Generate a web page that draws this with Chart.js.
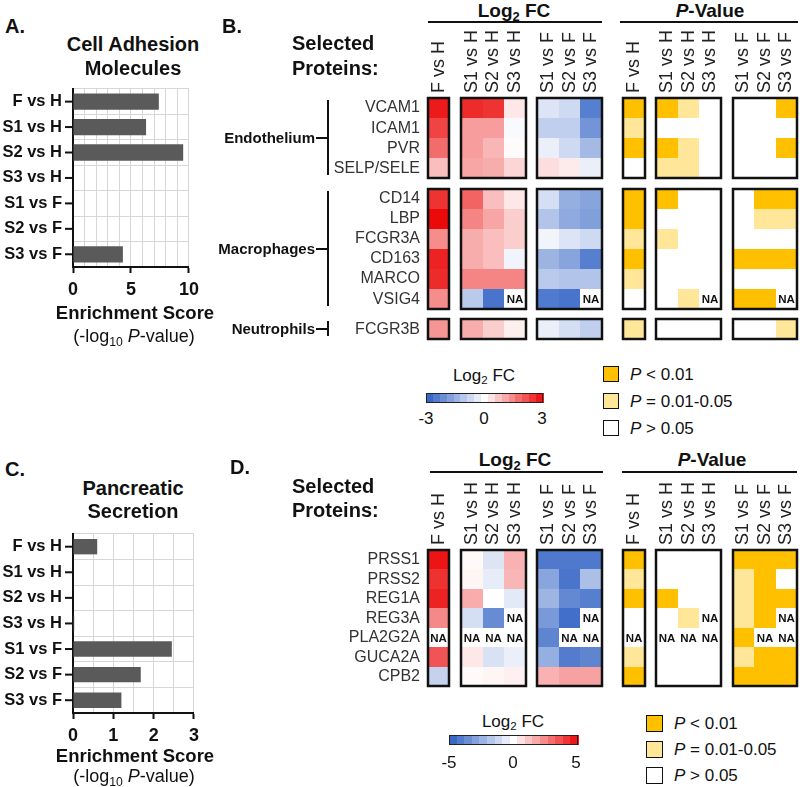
<!DOCTYPE html>
<html>
<head>
<meta charset="utf-8">
<script src="https://cdn.jsdelivr.net/npm/chart.js@4.4.1/dist/chart.umd.min.js"></script>
<style>
  body { margin: 0; background: #fff; }
  #page { position: relative; width: 800px; height: 787px; overflow: hidden;
          font-family: "Liberation Sans", Arial, Helvetica, sans-serif; color: #111; }
  canvas { position: absolute; }
  .t { position: absolute; white-space: nowrap; }
  .box { position: absolute; box-sizing: border-box; }
  sub { font-size: 68%; vertical-align: -0.3em; line-height: 0; }
</style>
</head>
<body>
<div id="page">
  <canvas id="chartA" width="205" height="232" style="left:0;top:76px"></canvas>
  <canvas id="chartC" width="205" height="233" style="left:0;top:521px"></canvas>
  <canvas id="heatB" width="590" height="332" style="left:210px;top:25px"></canvas>
  <canvas id="heatD" width="590" height="227" style="left:210px;top:477px"></canvas>
</div>
<script>
// ---- data ----
const comparisons = ['F vs H', 'S1 vs H', 'S2 vs H', 'S3 vs H', 'S1 vs F', 'S2 vs F', 'S3 vs F'];
const adhesionScore = [7.4, 6.3, 9.5, 0, 0, 0, 4.3];
const pancreaticScore = [0.6, 0, 0, 0.03, 2.45, 1.68, 1.2];

const colFvsH = ['F vs H'];
const colsVsH = ['S1 vs H', 'S2 vs H', 'S3 vs H'];
const colsVsF = ['S1 vs F', 'S2 vs F', 'S3 vs F'];

// panel B (log2 FC, range -3..3)
const groupsB = ['Endothelium', 'Macrophages', 'Neutrophils'];
const groupSizesB = [4, 6, 1];
const proteinsB = ['VCAM1', 'ICAM1', 'PVR', 'SELP/SELE', 'CD14', 'LBP', 'FCGR3A', 'CD163', 'MARCO', 'VSIG4', 'FCGR3B'];
const fcB_FvsH = [2.8, 2.3, 1.8, 0.8, 2.5, 3.0, 1.4, 2.7, 2.6, 1.4, 1.3];
const fcB_SvsH = [[2.6, 2.5, 0.3], [1.2, 1.2, -0.1], [1.2, 0.9, 0.05], [1.1, 1.0, 0.5], [1.9, 0.8, 0.3], [1.5, 1.1, 0.6],
                  [1.0, 0.8, 0.6], [1.0, 0.8, -0.2], [1.5, 1.5, 1.5], [-1.0, -2.6, null], [1.0, 0.6, 0.2]];
const fcB_SvsF = [[-0.5, -0.7, -2.4], [-0.9, -0.9, -2.0], [-0.3, -0.7, -1.3], [0.4, 0.25, -0.3], [-0.6, -1.5, -1.7], [-1.1, -1.6, -1.8],
                  [-0.2, -0.5, -0.7], [-1.4, -1.7, -2.4], [-1.0, -1.1, -1.1], [-2.5, -2.6, null], [-0.3, -0.6, -0.9]];
// p-value class: 2 = P<0.01, 1 = 0.01-0.05, 0 = >0.05, null = NA
const pB_FvsH = [2, 1, 2, 0, 2, 2, 1, 2, 1, 0, 1];
const pB_SvsH = [[2, 1, 0], [0, 0, 0], [2, 1, 0], [1, 1, 0], [2, 0, 0], [0, 0, 0], [1, 0, 0], [0, 0, 0], [0, 0, 0], [0, 1, null], [0, 0, 0]];
const pB_SvsF = [[0, 0, 2], [0, 0, 0], [0, 0, 2], [0, 0, 0], [0, 2, 2], [0, 1, 1], [0, 0, 0], [2, 2, 2], [0, 0, 0], [2, 2, null], [0, 0, 1]];

// panel D (log2 FC, range -5..5)
const proteinsD = ['PRSS1', 'PRSS2', 'REG1A', 'REG3A', 'PLA2G2A', 'GUCA2A', 'CPB2'];
const fcD_FvsH = [4.8, 4.2, 4.5, 2.4, null, 3.5, -1.4];
const fcD_SvsH = [[0.1, -0.8, 1.6], [0.2, -0.6, 1.5], [1.7, 0.0, -0.7], [-1.0, -3.6, null], [null, null, null], [0.5, -0.9, -0.5], [0.1, 0.2, 0.3]];
const fcD_SvsF = [[-4.2, -4.2, -4.2], [-2.8, -4.3, -2.0], [-2.3, -3.7, -4.0], [-3.2, -4.5, null], [-3.8, null, null], [-2.5, -4.1, -3.8], [1.6, 1.9, 1.9]];
const pD_FvsH = [2, 1, 2, 0, null, 1, 2];
const pD_SvsH = [[0, 0, 0], [0, 0, 0], [2, 0, 0], [0, 1, null], [null, null, null], [0, 0, 0], [0, 0, 0]];
const pD_SvsF = [[2, 2, 2], [1, 2, 0], [1, 2, 2], [1, 2, null], [2, null, null], [1, 2, 2], [2, 2, 2]];

// ---- styling ----
const FONT = '"Liberation Sans", Arial, Helvetica, sans-serif';
Chart.defaults.font.family = FONT;
Chart.defaults.color = '#111';
const pColors = ['#ffffff', '#ffe699', '#ffc000'];
const ROW_GAP = 0.5, BLOCK_GAP = 0.55, PANEL_GAP = 1.0;
const COL_FONT = 18;

function fcColor(v, lim) {
  const t = Math.max(-1, Math.min(1, v / lim));
  const end = t < 0 ? [45, 95, 195] : [235, 10, 10];
  const a = Math.abs(t);
  return 'rgb(' + end.map(e => Math.round(255 + (e - 255) * a)).join(',') + ')';
}

// tick marks centred on the categories (gridlines sit between them)
const centerTicks = {
  id: 'centerTicks',
  afterDraw(chart) {
    const s = chart.scales.y, ctx = chart.ctx;
    ctx.save();
    ctx.strokeStyle = '#111';
    ctx.lineWidth = 2;
    s.ticks.forEach((t, i) => {
      const y = s.getPixelForTick(i);
      ctx.beginPath();
      ctx.moveTo(s.right - 8, y);
      ctx.lineTo(s.right, y);
      ctx.stroke();
    });
    ctx.restore();
  }
};

function enrichmentChart(id, values, max, gridStep, labelEvery, barPct) {
  const isLabel = v => Math.abs(v / labelEvery - Math.round(v / labelEvery)) < 1e-6;
  return new Chart(document.getElementById(id), {
    type: 'bar',
    data: {
      labels: comparisons,
      datasets: [{ data: values, backgroundColor: '#5a5a5a', barPercentage: barPct, categoryPercentage: 1 }]
    },
    options: {
      indexAxis: 'y',
      responsive: false,
      animation: false,
      layout: { padding: { top: 6, right: 8 }, autoPadding: false },
      plugins: { legend: { display: false }, tooltip: { enabled: false } },
      scales: {
        x: {
          min: 0, max: max,
          ticks: { stepSize: gridStep, autoSkip: false, maxRotation: 0, padding: 6,
                   font: { size: 18, weight: 'bold' }, color: '#111',
                   callback: v => isLabel(v) ? v : '' },
          grid: { color: '#d6d6d6', lineWidth: 1, tickLength: 6, tickWidth: 2,
                  tickColor: c => (c.tick && isLabel(c.tick.value)) ? '#111' : 'rgba(0,0,0,0)' },
          border: { color: '#111', width: 2 },
          afterFit: s => { s.height = 41; }
        },
        y: {
          ticks: { autoSkip: false, padding: 3, font: { size: 16.5, weight: 'bold' }, color: '#111' },
          grid: { color: '#d6d6d6', offset: true, tickLength: 8, tickColor: 'rgba(0,0,0,0)' },
          border: { color: '#111', width: 2 },
          afterFit: s => { s.width = 73; }
        }
      }
    },
    plugins: [centerTicks]
  });
}

function heatmapChart(id, rowLabels, groupNames, groupSizes, blocks, lim) {
  const rowStart = [], groups = [];
  let yPos = 0;
  groupSizes.forEach((n, g) => {
    groups.push({ name: groupNames[g], y0: yPos, y1: yPos + n, first: rowStart.length, n: n });
    for (let i = 0; i < n; i++) rowStart.push(yPos + i);
    yPos += n + ROW_GAP;
  });
  const totalH = yPos - ROW_GAP;

  const xStart = [];
  let xPos = 0;
  blocks.forEach((b, i) => { xStart.push(xPos); xPos += b.cols.length + (i === 2 ? PANEL_GAP : BLOCK_GAP); });
  const totalW = xStart[xStart.length - 1] + blocks[blocks.length - 1].cols.length;

  const colLabels = [], colCenters = [];
  blocks.forEach((b, i) => b.cols.forEach((c, j) => { colLabels.push(c); colCenters.push(xStart[i] + j + 0.5); }));
  const rowCenters = rowStart.map(v => v + 0.5);

  const cells = {
    id: 'cells',
    afterDatasetsDraw(chart) {
      const { ctx, scales: { x, y } } = chart;
      const px = v => Math.round(x.getPixelForValue(v));
      const py = v => Math.round(y.getPixelForValue(v));
      ctx.save();
      blocks.forEach((b, bi) => {
        groups.forEach(g => {
          for (let r = g.first; r < g.first + g.n; r++) {
            b.vals[r].forEach((v, c) => {
              const x0 = px(xStart[bi] + c), x1 = px(xStart[bi] + c + 1);
              const y0 = py(rowStart[r]), y1 = py(rowStart[r] + 1);
              ctx.fillStyle = v === null ? '#fff' : (b.kind === 'fc' ? fcColor(v, lim) : pColors[v]);
              ctx.fillRect(x0, y0, x1 - x0, y1 - y0);
              if (v === null) {
                ctx.fillStyle = '#111';
                ctx.font = 'bold 11.5px ' + FONT;
                ctx.textAlign = 'center';
                ctx.textBaseline = 'middle';
                ctx.fillText('NA', (x0 + x1) / 2, (y0 + y1) / 2 + 1);
              }
            });
          }
          ctx.strokeStyle = '#111';
          ctx.lineWidth = 2.5;
          const bx0 = px(xStart[bi]), bx1 = px(xStart[bi] + b.cols.length);
          ctx.strokeRect(bx0, py(g.y0), bx1 - bx0, py(g.y1) - py(g.y0));
        });
      });
      // group brackets on the left
      groups.forEach(g => {
        if (!g.name) return;
        const bx = chart.chartArea.left - 100;
        const top = py(g.y0) + 2, bot = py(g.y1) - 3, mid = (py(g.y0) + py(g.y1)) / 2;
        ctx.strokeStyle = '#111';
        ctx.lineWidth = 2;
        ctx.beginPath();
        ctx.moveTo(bx, top); ctx.lineTo(bx, bot);
        ctx.moveTo(bx - 12, mid); ctx.lineTo(bx, mid);
        ctx.stroke();
        ctx.fillStyle = '#111';
        ctx.font = 'bold 15px ' + FONT;
        ctx.textAlign = 'right';
        ctx.textBaseline = 'middle';
        ctx.fillText(g.name, bx - 13, mid + 1);
      });
      ctx.restore();
    }
  };

  return new Chart(document.getElementById(id), {
    type: 'scatter',
    data: { datasets: [{ data: [] }] },
    options: {
      responsive: false,
      animation: false,
      layout: { padding: { right: 3, bottom: 4 }, autoPadding: false },
      plugins: { legend: { display: false }, tooltip: { enabled: false } },
      scales: {
        x: {
          type: 'linear', position: 'top', min: 0, max: totalW,
          grid: { display: false, drawTicks: false }, border: { display: false },
          afterBuildTicks: s => { s.ticks = colCenters.map(value => ({ value })); },
          afterFit: s => { s.height = 73; },
          // rotated labels on a top axis land one line-height to the left; shift them back
          ticks: { autoSkip: false, minRotation: 90, maxRotation: 90, padding: 5, labelOffset: COL_FONT * 1.2,
                   font: { size: COL_FONT }, color: '#222', callback: (v, i) => colLabels[i] }
        },
        y: {
          type: 'linear', reverse: true, min: 0, max: totalH,
          grid: { display: false, drawTicks: false }, border: { display: false },
          afterBuildTicks: s => { s.ticks = rowCenters.map(value => ({ value })); },
          afterFit: s => { s.width = 218; },
          ticks: { autoSkip: false, padding: 8, font: { size: 16 }, color: '#333',
                   callback: (v, i) => rowLabels[i] }
        }
      }
    },
    plugins: [cells]
  });
}

const col = a => a.map(v => [v]);

enrichmentChart('chartA', adhesionScore, 10, 1, 5, 0.64);
enrichmentChart('chartC', pancreaticScore, 3, 0.5, 1, 0.6);

heatmapChart('heatB', proteinsB, groupsB, groupSizesB, [
  { cols: colFvsH, vals: col(fcB_FvsH), kind: 'fc' },
  { cols: colsVsH, vals: fcB_SvsH, kind: 'fc' },
  { cols: colsVsF, vals: fcB_SvsF, kind: 'fc' },
  { cols: colFvsH, vals: col(pB_FvsH), kind: 'p' },
  { cols: colsVsH, vals: pB_SvsH, kind: 'p' },
  { cols: colsVsF, vals: pB_SvsF, kind: 'p' }
], 3);

heatmapChart('heatD', proteinsD, [''], [proteinsD.length], [
  { cols: colFvsH, vals: col(fcD_FvsH), kind: 'fc' },
  { cols: colsVsH, vals: fcD_SvsH, kind: 'fc' },
  { cols: colsVsF, vals: fcD_SvsF, kind: 'fc' },
  { cols: colFvsH, vals: col(pD_FvsH), kind: 'p' },
  { cols: colsVsH, vals: pD_SvsH, kind: 'p' },
  { cols: colsVsF, vals: pD_SvsF, kind: 'p' }
], 5);

// ---- text, headers, legends ----
const page = document.getElementById('page');
function txt(html, x, cy, size, align, bold) {
  const d = document.createElement('div');
  d.className = 't';
  d.innerHTML = html;
  d.style.left = x + 'px';
  d.style.top = (cy - size / 2) + 'px';
  d.style.fontSize = size + 'px';
  d.style.lineHeight = size + 'px';
  if (bold) d.style.fontWeight = 'bold';
  if (align === 'center') d.style.transform = 'translateX(-50%)';
  if (align === 'right') d.style.transform = 'translateX(-100%)';
  page.appendChild(d);
}
function box(x, y, w, h, bg, border) {
  const d = document.createElement('div');
  d.className = 'box';
  Object.assign(d.style, { left: x + 'px', top: y + 'px', width: w + 'px', height: h + 'px', background: bg });
  if (border) d.style.border = border;
  page.appendChild(d);
}
function colorbar(x0, x1, y0, y1, lim) {
  const n = 17, w = (x1 - x0) / n;
  for (let i = 0; i < n; i++) {
    box(x0 + i * w, y0, w + 0.6, y1 - y0, fcColor(-lim + (i + 0.5) * 2 * lim / n, lim));
  }
  box(x0, y0, x1 - x0, y1 - y0, 'transparent', '1px solid #222');
}
function pLegend(x, y0, step, size) {
  const items = [[pColors[2], '<i>P</i> &lt; 0.01'], [pColors[1], '<i>P</i> = 0.01-0.05'], [pColors[0], '<i>P</i> &gt; 0.05']];
  items.forEach((it, i) => {
    const y = y0 + i * step;
    box(x, y, size, size, it[0], '1.5px solid #111');
    txt(it[1], x + size + 11, y + size / 2, 17, 'left', false);
  });
}

// panel A
txt('A.', 5, 26, 20, 'left', true);
txt('Cell Adhesion', 133, 44, 20, 'center', true);
txt('Molecules', 133, 68, 20, 'center', true);
txt('Enrichment Score', 135, 313, 18.5, 'center', true);
txt('(-log<sub>10</sub> <i>P</i>-value)', 134, 336, 18, 'center', false);

// panel C
txt('C.', 5, 469, 20, 'left', true);
txt('Pancreatic', 133, 488, 20, 'center', true);
txt('Secretion', 133, 511, 20, 'center', true);
txt('Enrichment Score', 135, 756, 18.5, 'center', true);
txt('(-log<sub>10</sub> <i>P</i>-value)', 134, 776, 18, 'center', false);

// panel B
txt('B.', 222, 26, 20, 'left', true);
txt('Selected', 292, 43, 20, 'left', true);
txt('Proteins:', 292, 68, 20, 'left', true);
txt('Log<sub>2</sub> FC', 514, 10, 19, 'center', true);
box(428, 21, 174, 2, '#111');
txt('<i>P</i>-Value', 710, 10, 19, 'center', true);
box(620, 21, 178, 2, '#111');
txt('Log<sub>2</sub> FC', 484, 375, 17, 'center', false);
colorbar(426, 543, 393, 403, 3);
txt('-3', 426, 418, 17, 'center', false);
txt('0', 484, 418, 17, 'center', false);
txt('3', 542, 418, 17, 'center', false);
pLegend(603, 366, 27, 16);

// panel D
txt('D.', 230, 467, 20, 'left', true);
txt('Selected', 292, 486, 20, 'left', true);
txt('Proteins:', 292, 510, 20, 'left', true);
txt('Log<sub>2</sub> FC', 515, 459, 19, 'center', true);
box(430, 471, 173, 2, '#111');
txt('<i>P</i>-Value', 712, 459, 19, 'center', true);
box(622, 471, 175, 2, '#111');
txt('Log<sub>2</sub> FC', 513, 721, 17, 'center', false);
colorbar(449, 578, 735, 745, 5);
txt('-5', 449, 762, 17, 'center', false);
txt('0', 513, 762, 17, 'center', false);
txt('5', 576, 762, 17, 'center', false);
pLegend(646, 715, 26, 17);
</script>
</body>
</html>
